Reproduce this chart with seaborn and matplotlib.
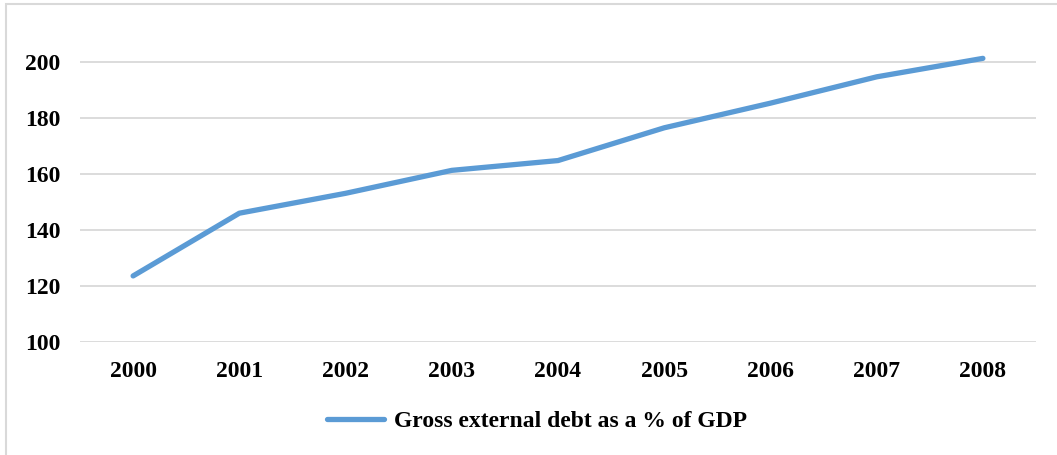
import matplotlib
matplotlib.use("Agg")
import matplotlib.pyplot as plt
import seaborn as sns
import pandas as pd
from matplotlib.patches import Rectangle
from matplotlib.lines import Line2D

years = [2000, 2001, 2002, 2003, 2004, 2005, 2006, 2007, 2008]
debt_pct_gdp = [123.6, 146.0, 153.1, 161.3, 164.8, 176.5, 185.3, 194.7, 201.3]
year_labels = [str(y) for y in years]
y_ticks = [100, 120, 140, 160, 180, 200]
series_name = "Gross external debt as a % of GDP"

sns.set_theme(style="white")
plt.rcParams["font.family"] = ["Liberation Serif", "DejaVu Serif"]
plt.rcParams["font.weight"] = "bold"
plt.rcParams["text.color"] = "black"

W, H = 1057, 455
fig = plt.figure(figsize=(W / 100, H / 100), dpi=100)
ax = fig.add_axes([80 / W, 1 - 342 / H, (1036 - 80) / W, (342 - 20) / H])

df = pd.DataFrame({"year": years, "value": debt_pct_gdp, "series": series_name})
sns.lineplot(data=df, x="year", y="value", hue="series", palette=["#5B9BD5"],
             linewidth=3.8, ax=ax, legend=False, solid_capstyle="round")

ax.set_xlim(years[0] - 0.5, years[-1] + 0.5)
ax.set_ylim(100, 215)
ax.set_xticks(years)
ax.set_xticklabels(year_labels)
ax.set_yticks(y_ticks)
ax.set_yticklabels([str(t) for t in y_ticks])
ax.set_xlabel("")
ax.set_ylabel("")
ax.grid(axis="y", color="#D9D9D9", linewidth=1.3)
ax.grid(axis="x", visible=False)
ax.set_axisbelow(True)
for s in ax.spines.values():
    s.set_visible(False)
ax.tick_params(axis="both", length=0, labelsize=17, colors="black")
ax.tick_params(axis="x", pad=14)
ax.tick_params(axis="y", pad=14)
for lbl in ax.get_xticklabels() + ax.get_yticklabels():
    lbl.set_fontweight("bold")
    lbl.set_color("black")

handle = Line2D([0], [0], color="#5B9BD5", linewidth=3.8, solid_capstyle="round")
leg = fig.legend([handle], [series_name], loc="center", bbox_to_anchor=(537 / W, 1 - 421 / H),
                 frameon=False, handlelength=2.4, handletextpad=0.45,
                 prop={"size": 17, "weight": "bold"})
for t in leg.get_texts():
    t.set_color("black")

fig.patches.append(Rectangle((6 / W, -0.05), 1.1, 1 - 4 / H + 0.05, transform=fig.transFigure,
                             fill=False, edgecolor="#D9D9D9", linewidth=1.5))

fig.savefig("out.png", dpi=100)
